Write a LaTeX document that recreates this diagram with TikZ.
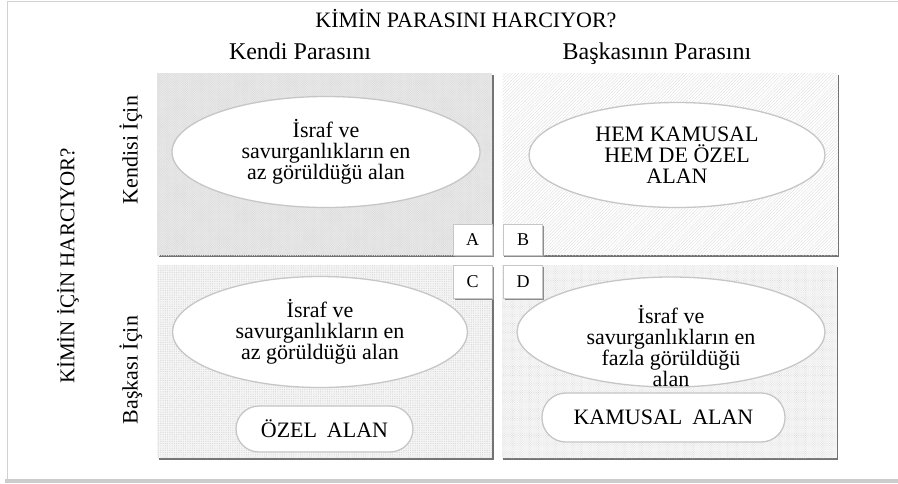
\documentclass[tikz,border=0pt]{standalone}
\usepackage{fontspec}
\setmainfont{Liberation Serif}
\usetikzlibrary{shapes.geometric,patterns.meta,shadows}
\tikzset{
  quad/.style={inner sep=0pt, outer sep=0pt, minimum width=335pt, minimum height=#1,
    drop shadow={shadow xshift=1.8pt, shadow yshift=-1.8pt, fill=black!55, opacity=1}},
  quadA/.style={quad=182pt, preaction={fill=gray!15},
    pattern={Hatch[angle=45,distance=1.6pt,line width=0.25pt]}, pattern color=gray!28},
  quadB/.style={quad=182pt, preaction={fill=white},
    pattern={Lines[angle=45,distance=2.2pt,line width=0.3pt]}, pattern color=gray!30},
  quadC/.style={quad=193pt, preaction={fill=gray!7},
    pattern={Dots[distance=1.8pt,radius=0.45pt]}, pattern color=gray!38},
  quadD/.style={quad=193pt, preaction={fill=gray!6},
    pattern={Dots[distance=1.6pt,radius=0.4pt,angle=45]}, pattern color=gray!35},
  lbl/.style={draw=gray!45, line width=1pt, fill=white, inner sep=0pt,
    minimum width=39pt, minimum height=#1,
    drop shadow={shadow xshift=1.5pt, shadow yshift=-1.5pt, fill=black!45, opacity=1},
    font=\fontsize{18}{18}\selectfont},
  oval/.style={ellipse, draw=gray!45, line width=1.3pt, fill=white, inner sep=0pt,
    align=center, font=\fontsize{22}{21}\selectfont},
  pill/.style={draw=gray!45, line width=1.3pt, fill=white, inner sep=0pt,
    font=\fontsize{22}{22}\selectfont},
  txt/.style={inner sep=0pt, font=\fontsize{22}{22}\selectfont, text=black},
}
\begin{document}
\begin{tikzpicture}[x=1pt,y=-1pt]
\useasboundingbox (0,0) rectangle (898,483);
% outer frame
\draw[gray!35, line width=1pt] (905,1) -- (7,1) -- (7,479);
\draw[gray!40, line width=4pt] (5,480.5) -- (905,480.5);
% titles
\node[txt, anchor=base] (title) at (466,27) {KİMİN PARASINI HARCIYOR?};
\node[txt, anchor=base, font=\fontsize{24}{24}\selectfont] (h1) at (300,59) {Kendi Parasını};
\node[txt, anchor=base, font=\fontsize{24}{24}\selectfont] (h2) at (657,59) {Başkasının Parasını};
\node[txt, rotate=90, font=\fontsize{21}{21}\selectfont] (side) at (68,266) {KİMİN İÇİN HARCIYOR?};
\node[txt, rotate=90] (s1) at (131,150) {Kendisi İçin};
\node[txt, rotate=90] (s2) at (131,370) {Başkası İçin};
% quadrants
\node[quadA] (A) at (324.5,164) {};
\node[quadB] (B) at (670,164) {};
\node[quadC] (C) at (324.5,361.5) {};
\node[quadD] (D) at (669,361.5) {};
% ellipses
\node[oval, minimum width=308pt, minimum height=111pt] (Aell) at (326,152)
  {İsraf ve\\savurganlıkların en\\az görüldüğü alan};
\node[oval, minimum width=296pt, minimum height=105pt] (Bell) at (677,155)
  {HEM KAMUSAL\\HEM DE ÖZEL\\ALAN};
\node[oval, minimum width=295pt, minimum height=111pt] (Cell) at (320,332)
  {İsraf ve\\savurganlıkların en\\az görüldüğü alan};
\node[oval, minimum width=308pt, minimum height=110pt] (Dell) at (671,332) {};
\node[txt, align=center, font=\fontsize{22}{21}\selectfont] (Dtext) at (671,346)
  {İsraf ve\\savurganlıkların en\\fazla görüldüğü\\alan};
% pills
\node[pill, minimum width=177pt, minimum height=46pt, rounded corners=23pt] (ozel) at (324.5,429)
  {ÖZEL\hspace{0.45em}ALAN};
\node[pill, minimum width=243pt, minimum height=49pt, rounded corners=24pt] (kamu) at (663.5,417.5)
  {KAMUSAL\hspace{0.45em}ALAN};
% letter boxes
\node[lbl=31pt] (la) at (472.5,239.5) {A};
\node[lbl=31pt] (lb) at (523,239.5) {B};
\node[lbl=33pt] (lc) at (472.5,281.5) {C};
\node[lbl=33pt] (ld) at (523,281.5) {D};
\end{tikzpicture}
\end{document}
